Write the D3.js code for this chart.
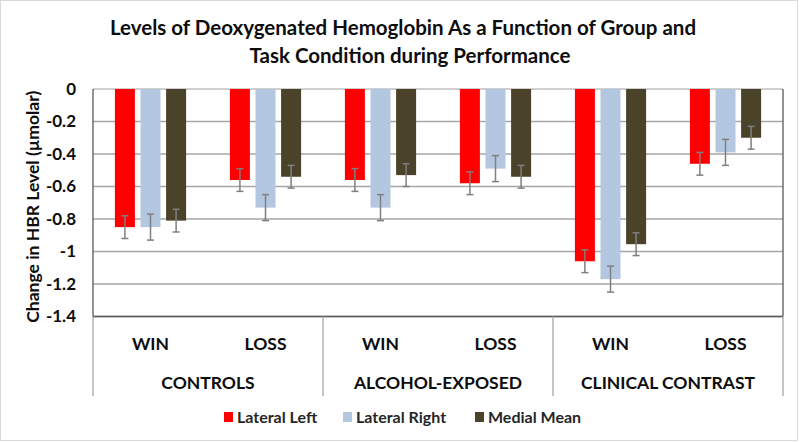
<!DOCTYPE html>
<html>
<head>
<meta charset="utf-8">
<script src="https://cdn.jsdelivr.net/npm/d3@7"></script>
<style>
  body { margin: 0; background: #fff; }
  svg { display: block; font-family: Lato, "Open Sans", sans-serif; }
</style>
</head>
<body>
<div id="chart"><svg width="800" height="443"></svg></div>
<script>
const GROUPS = ['CONTROLS', 'ALCOHOL-EXPOSED', 'CLINICAL CONTRAST'];
const CONDITIONS = ['WIN', 'LOSS'];
const SERIES = ['Lateral Left', 'Lateral Right', 'Medial Mean'];
const COLORS = ['#ff0000', '#b4c7e0', '#4a4229'];
// values per series, in order CONTROLS WIN, CONTROLS LOSS, ALCOHOL WIN, ALCOHOL LOSS, CLINICAL WIN, CLINICAL LOSS
const LATERAL_LEFT = [-0.85, -0.56, -0.56, -0.58, -1.06, -0.46];
const LATERAL_RIGHT = [-0.85, -0.73, -0.73, -0.49, -1.17, -0.39];
const MEDIAL_MEAN = [-0.81, -0.54, -0.53, -0.54, -0.955, -0.30];
const ERR_LEFT = [0.07, 0.07, 0.07, 0.07, 0.07, 0.07];
const ERR_RIGHT = [0.08, 0.08, 0.08, 0.08, 0.08, 0.08];
const ERR_MEDIAL = [0.07, 0.07, 0.07, 0.07, 0.07, 0.07];
const Y_TICKS = [0, -0.2, -0.4, -0.6, -0.8, -1, -1.2, -1.4];

const values = [LATERAL_LEFT, LATERAL_RIGHT, MEDIAL_MEAN];
const errors = [ERR_LEFT, ERR_RIGHT, ERR_MEDIAL];

const SVG = d3.select('#chart svg');
const LEFT = 93, RIGHT = 783, TOP = 89, BOTTOM = 316.5;
const TEXT_COLOR = '#0d0d0d';

// outer chart frame
SVG.append('rect')
  .attr('x', 0.5).attr('y', 0.5).attr('width', 797).attr('height', 440)
  .style('fill', 'none').style('stroke', '#d9d9d9');

// title
SVG.append('text')
  .attr('x', 403).attr('y', 35)
  .style('text-anchor', 'middle').style('font-size', '20.5px').style('font-weight', '700')
  .style('fill', TEXT_COLOR)
  .text('Levels of Deoxygenated Hemoglobin As a Function of Group and');
SVG.append('text')
  .attr('x', 410).attr('y', 63)
  .style('text-anchor', 'middle').style('font-size', '20.5px').style('font-weight', '700')
  .style('fill', TEXT_COLOR)
  .text('Task Condition during Performance');

const Y_SCALE = d3.scaleLinear().domain([0, -1.4]).range([TOP, BOTTOM]);

const keys = [];
GROUPS.forEach(g => CONDITIONS.forEach(c => keys.push(g + '|' + c)));
const X_SCALE = d3.scaleBand().domain(keys).range([LEFT, RIGHT]).paddingInner(0).paddingOuter(0);
const catW = X_SCALE.bandwidth();
const BAR_W = 20, STEP = 25.6;
const X_SUB = d3.scaleBand().domain(SERIES).range([catW / 2 - 1.5 * STEP, catW / 2 + 1.5 * STEP]).paddingInner(1 - BAR_W / STEP).paddingOuter((1 - BAR_W / STEP) / 2);

// gridlines
SVG.append('g')
  .selectAll('line')
  .data(Y_TICKS)
  .join('line')
  .attr('x1', LEFT).attr('x2', RIGHT)
  .attr('y1', d => Y_SCALE(d)).attr('y2', d => Y_SCALE(d))
  .style('stroke', d => d === 0 ? '#bfbfbf' : '#a6a6a6').style('stroke-width', 1.3);

// y axis
const Y_AXIS = d3.axisLeft(Y_SCALE).tickValues(Y_TICKS).tickSize(0).tickPadding(17).tickFormat(d => String(+d.toFixed(1)));
const Y_AXIS_G = SVG.append('g').attr('transform', `translate(${LEFT},0)`);
Y_AXIS(Y_AXIS_G);
Y_AXIS_G.select('.domain').remove();
Y_AXIS_G.selectAll('text').style('font-size', '17px').style('font-weight', '700').style('fill', TEXT_COLOR).style('font-family', 'Lato, sans-serif');

SVG.append('text')
  .attr('transform', `translate(39,${(TOP + BOTTOM) / 2 + 4}) rotate(-90)`)
  .style('text-anchor', 'middle').style('font-size', '17.5px').style('font-weight', '700').style('fill', TEXT_COLOR)
  .text('Change in HBR Level (µmolar)');

// bars
const barData = [];
values.forEach((arr, s) => arr.forEach((v, i) => barData.push({ s, i, v, e: errors[s][i] })));

SVG.append('g')
  .selectAll('rect')
  .data(barData)
  .join('rect')
  .attr('x', d => X_SCALE(keys[d.i]) + X_SUB(SERIES[d.s]))
  .attr('width', X_SUB.bandwidth())
  .attr('y', Y_SCALE(0))
  .attr('height', d => Y_SCALE(d.v) - Y_SCALE(0))
  .style('fill', d => COLORS[d.s]);

// error bars
const EB = SVG.append('g').style('stroke', '#7f7f7f').style('stroke-width', 1.5);
barData.forEach(d => {
  const cx = X_SCALE(keys[d.i]) + X_SUB(SERIES[d.s]) + X_SUB.bandwidth() / 2;
  EB.append('line').attr('x1', cx).attr('x2', cx).attr('y1', Y_SCALE(d.v + d.e)).attr('y2', Y_SCALE(d.v - d.e));
  [d.v + d.e, d.v - d.e].forEach(y => {
    EB.append('line').attr('x1', cx - 3.5).attr('x2', cx + 3.5).attr('y1', Y_SCALE(y)).attr('y2', Y_SCALE(y));
  });
});

// plot borders
SVG.append('line').attr('x1', LEFT).attr('x2', LEFT).attr('y1', TOP).attr('y2', BOTTOM).style('stroke', '#595959').style('stroke-width', 1.3);
SVG.append('line').attr('x1', RIGHT).attr('x2', RIGHT).attr('y1', TOP).attr('y2', BOTTOM).style('stroke', '#595959').style('stroke-width', 1.3);
SVG.append('line').attr('x1', LEFT).attr('x2', RIGHT).attr('y1', BOTTOM).attr('y2', BOTTOM).style('stroke', '#595959').style('stroke-width', 1.3);

// category axis
const G_SCALE = d3.scaleBand().domain(GROUPS).range([LEFT, RIGHT]);
const CAT = SVG.append('g');
[LEFT, ...GROUPS.map(g => G_SCALE(g) + G_SCALE.bandwidth())].forEach(x => {
  CAT.append('line').attr('x1', x).attr('x2', x).attr('y1', BOTTOM).attr('y2', 396)
    .style('stroke', '#a6a6a6').style('stroke-width', 1.3);
});
CAT.selectAll('text.cond')
  .data(keys)
  .join('text')
  .attr('class', 'cond')
  .attr('x', d => X_SCALE(d) + catW / 2)
  .attr('y', 350)
  .style('text-anchor', 'middle').style('font-size', '17.5px').style('font-weight', '700').style('fill', TEXT_COLOR)
  .text(d => d.split('|')[1]);
CAT.selectAll('text.grp')
  .data(GROUPS)
  .join('text')
  .attr('class', 'grp')
  .attr('x', d => G_SCALE(d) + G_SCALE.bandwidth() / 2)
  .attr('y', 389)
  .style('text-anchor', 'middle').style('font-size', '17.5px').style('font-weight', '700').style('fill', TEXT_COLOR)
  .text(d => d);

// legend
const LEG_X = [224, 343, 475];
const LEG = SVG.append('g');
SERIES.forEach((s, i) => {
  LEG.append('rect').attr('x', LEG_X[i]).attr('y', 412).attr('width', 9).attr('height', 10).style('fill', COLORS[i]);
  LEG.append('text').attr('x', LEG_X[i] + 13).attr('y', 423)
    .style('font-size', '16px').style('font-weight', '700').style('fill', '#262626').text(s);
});
</script>
</body>
</html>
